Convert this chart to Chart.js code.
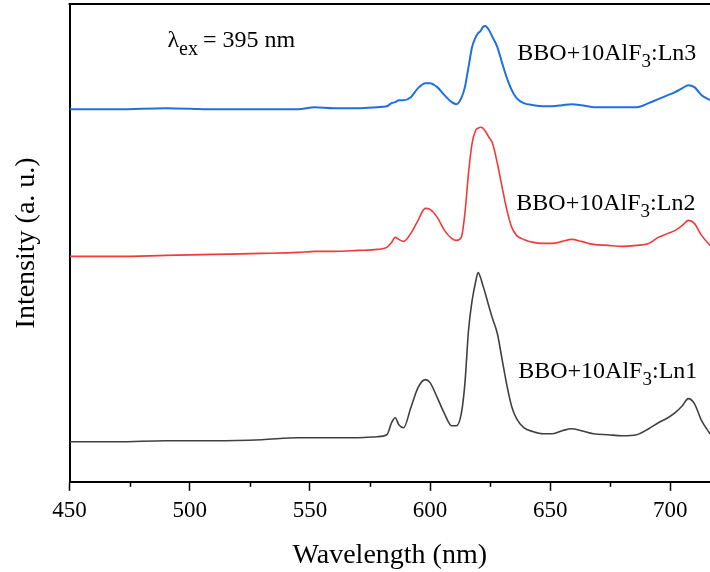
<!DOCTYPE html>
<html>
<head>
<meta charset="utf-8">
<script src="https://cdn.jsdelivr.net/npm/chart.js@4.4.1/dist/chart.umd.min.js"></script>
<style>
  html, body { margin: 0; padding: 0; background: #fff; }
  #wrap { width: 710px; height: 572px; }
</style>
</head>
<body>
<div id="wrap"><canvas id="chart-pl" width="710" height="572"></canvas></div>
<script>
// ---- data (offset intensity, a.u.) ----
const wavelengths = [450, 470, 490, 510, 530, 545, 552, 560, 570, 578, 582, 584, 585.5, 587, 589, 592, 595, 598, 600, 603,
  606, 609, 611, 613, 614.5, 616, 617.5, 619, 620, 621, 622, 623, 624.5, 626, 628, 630, 632, 634, 636, 639,
  643, 647, 651, 655, 659, 663, 668, 674, 680, 686, 691, 695, 699, 702, 705, 707.5, 710, 713, 716.5];

const ln1 = [40, 40, 41, 41, 42, 44, 44, 44, 44, 45, 47, 59, 64, 57, 54, 74, 94, 102, 99, 84,
  68, 56, 56, 68, 98, 151, 181, 200, 209, 204, 196, 188, 175, 163, 148, 122, 96, 75, 63, 54,
  50, 48, 48, 51, 53, 51, 48, 47, 46, 47, 53, 59, 64, 69, 76, 83, 78, 61, 48];

const ln2 = [225, 225, 226, 227, 228, 229, 230, 230, 231, 232, 234, 239, 244, 242, 240, 248, 261, 273, 272, 264,
  251, 243, 241, 244, 268, 308, 338, 351, 353, 354, 353, 350, 344, 338, 318, 294, 271, 254, 246, 242,
  239, 238, 238, 240, 242, 240, 237, 236, 235, 236, 238, 244, 248, 251, 256, 261, 258, 246, 236];

const ln3 = [372, 372, 373, 372, 372, 372, 374, 373, 373, 374, 375, 378, 379, 381, 381, 384, 393, 398, 398, 394,
  386, 379, 377, 383, 394, 414, 434, 444, 448, 450, 454, 455, 451, 444, 434, 418, 403, 391, 383, 378,
  376, 375, 375, 376, 377, 376, 374, 374, 374, 374, 378, 382, 386, 389, 393, 396, 394, 386, 381];

const seriesNames = ['BBO+10AlF3:Ln1', 'BBO+10AlF3:Ln2', 'BBO+10AlF3:Ln3'];
const seriesColors = ['#404040', '#f03a3a', '#1f6fe3'];
const xTicks = [450, 500, 550, 600, 650, 700];
const xMinorTicks = [475, 525, 575, 625, 675];

// label anchors in data units: [wavelength, intensity]
const labelAnchors = [[636.7, 104], [635.9, 271], [636.3, 421]];
const exciteAnchor = [490.7, 434];

const SERIF = "'Liberation Serif', 'Times New Roman', serif";

function toPoints(ys) {
  return wavelengths.map((w, i) => ({ x: w, y: ys[i] }));
}

// frame top line, minor ticks and in-plot texts
const decorPlugin = {
  id: 'decor',
  afterDraw(chart) {
    const { ctx, chartArea, scales } = chart;
    const xs = scales.x, ys = scales.y;
    ctx.save();
    ctx.strokeStyle = '#000';
    ctx.lineWidth = 2;
    ctx.beginPath();
    ctx.moveTo(chartArea.left - 1, chartArea.top);
    ctx.lineTo(chartArea.right, chartArea.top);
    ctx.stroke();
    ctx.lineWidth = 1.5;
    xMinorTicks.forEach(v => {
      const px = Math.round(xs.getPixelForValue(v)) + 0.5;
      ctx.beginPath();
      ctx.moveTo(px, chartArea.bottom);
      ctx.lineTo(px, chartArea.bottom + 5);
      ctx.stroke();
    });

    ctx.fillStyle = '#000';
    ctx.textBaseline = 'alphabetic';
    ctx.textAlign = 'left';
    // series labels with subscript 3
    seriesNames.forEach((name, i) => {
      let x = xs.getPixelForValue(labelAnchors[i][0]);
      const y = ys.getPixelForValue(labelAnchors[i][1]);
      const [pre, post] = name.split('3:');
      ctx.font = '24px ' + SERIF;
      ctx.fillText(pre, x, y);
      x += ctx.measureText(pre).width;
      ctx.font = '19px ' + SERIF;
      ctx.fillText('3', x, y + 7);
      x += ctx.measureText('3').width;
      ctx.font = '24px ' + SERIF;
      ctx.fillText(':' + post, x, y);
    });
    // excitation wavelength
    let x = xs.getPixelForValue(exciteAnchor[0]);
    const y = ys.getPixelForValue(exciteAnchor[1]);
    ctx.font = '24px ' + SERIF;
    ctx.fillText('\u03bb', x, y);
    x += ctx.measureText('\u03bb').width;
    ctx.font = '20px ' + SERIF;
    ctx.fillText('ex', x, y + 8);
    x += ctx.measureText('ex').width + 5;
    ctx.font = '24px ' + SERIF;
    ctx.fillText('= 395 nm', x, y);
    ctx.restore();
  },
};

const bgPlugin = {
  id: 'bg',
  beforeDraw(chart) {
    const { ctx, width, height } = chart;
    ctx.save();
    ctx.fillStyle = '#fff';
    ctx.fillRect(0, 0, width, height);
    ctx.restore();
  },
};

new Chart(document.getElementById('chart-pl'), {
  type: 'scatter',
  data: {
    datasets: [ln1, ln2, ln3].map((ys, i) => ({
      label: seriesNames[i],
      data: toPoints(ys),
      showLine: true,
      borderColor: seriesColors[i],
      backgroundColor: seriesColors[i],
      borderWidth: i === 2 ? 2 : 1.6,
      pointRadius: 0,
      tension: 0.3,
      cubicInterpolationMode: 'monotone',
    })),
  },
  options: {
    responsive: false,
    animation: false,
    layout: { padding: { left: 10, right: 0, top: 4, bottom: 0 } },
    plugins: { legend: { display: false }, tooltip: { enabled: false } },
    scales: {
      x: {
        type: 'linear',
        min: 450,
        max: 716.5,
        afterBuildTicks: s => { s.ticks = xTicks.map(v => ({ value: v })); },
        grid: { display: true, drawOnChartArea: false, drawTicks: true, tickLength: 9, tickColor: '#000', tickWidth: 1.5 },
        border: { display: true, color: '#000', width: 2 },
        ticks: { color: '#000', font: { family: SERIF, size: 23 }, padding: 6, maxRotation: 0 },
        title: { display: true, text: 'Wavelength (nm)', color: '#000', font: { family: SERIF, size: 28 }, padding: { top: 8, bottom: 0 } },
      },
      y: {
        min: 0,
        max: 477,
        grid: { display: false, drawTicks: false },
        border: { display: true, color: '#000', width: 2 },
        ticks: { display: false },
        title: { display: true, text: 'Intensity (a. u.)', color: '#000', font: { family: SERIF, size: 28 }, padding: { top: 0, bottom: 26 } },
      },
    },
  },
  plugins: [bgPlugin, decorPlugin],
});
</script>
</body>
</html>
